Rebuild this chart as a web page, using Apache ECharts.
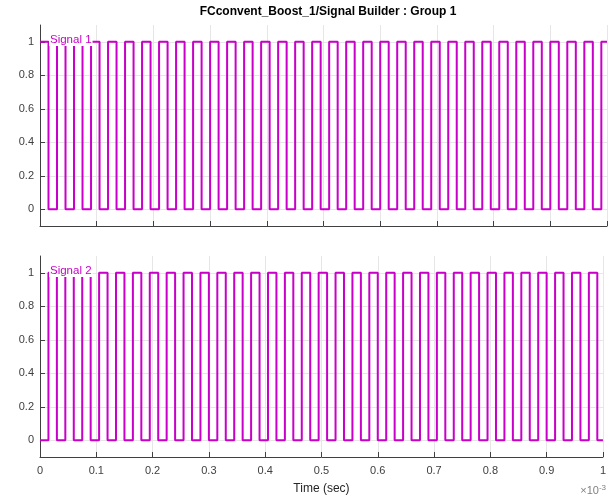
<!DOCTYPE html>
<html>
<head>
<meta charset="utf-8">
<script src="https://cdn.jsdelivr.net/npm/echarts@6/dist/echarts.min.js"></script>
<style>html,body{margin:0;padding:0;background:#fff;}#c{width:609px;height:500px;}</style>
</head>
<body>
<div id="c"></div>
<script>
// Time of each level change, in units of 1e-3 s
const edgeTimes = [0, 0.015, 0.03, 0.045, 0.06, 0.075, 0.09, 0.105, 0.12, 0.135, 0.15, 0.165, 0.18, 0.195, 0.21, 0.225, 0.24, 0.255, 0.27, 0.285, 0.3, 0.315, 0.33, 0.345, 0.36, 0.375, 0.39, 0.405, 0.42, 0.435, 0.45, 0.465, 0.48, 0.495, 0.51, 0.525, 0.54, 0.555, 0.57, 0.585, 0.6, 0.615, 0.63, 0.645, 0.66, 0.675, 0.69, 0.705, 0.72, 0.735, 0.75, 0.765, 0.78, 0.795, 0.81, 0.825, 0.84, 0.855, 0.87, 0.885, 0.9, 0.915, 0.93, 0.945, 0.96, 0.975, 0.99, 1.0];
const signal1 = [1,0,1,0,1,0,1,0,1,0,1,0,1,0,1,0,1,0,1,0,1,0,1,0,1,0,1,0,1,0,1,0,1,0,1,0,1,0,1,0,1,0,1,0,1,0,1,0,1,0,1,0,1,0,1,0,1,0,1,0,1,0,1,0,1,0,1,1];
const signal2 = [0,1,0,1,0,1,0,1,0,1,0,1,0,1,0,1,0,1,0,1,0,1,0,1,0,1,0,1,0,1,0,1,0,1,0,1,0,1,0,1,0,1,0,1,0,1,0,1,0,1,0,1,0,1,0,1,0,1,0,1,0,1,0,1,0,1,0,0];
const yTicks = [0, 0.2, 0.4, 0.6, 0.8, 1];
const signalNames = ['Signal 1', 'Signal 2'];
const titleText = 'FCconvent_Boost_1/Signal Builder : Group 1';
const xName = 'Time (sec)';

const FONT = '"Liberation Sans", Arial, sans-serif';
const AXC = '#404040';
const GRIDC = '#e6e6e6';
const SIGC = '#c800c8';

const chart = echarts.init(document.getElementById('c'), null, {renderer: 'canvas'});

function xAxisCfg(idx, showLabels) {
  return {
    type: 'value', gridIndex: idx, min: 0, max: 1, interval: 0.1,
    axisLine: {show: true, onZero: false, lineStyle: {color: AXC, width: 1}},
    axisTick: {show: true, inside: true, length: 5, lineStyle: {color: AXC}},
    axisLabel: {show: showLabels, color: '#404040', fontFamily: FONT, fontSize: 11, margin: 8,
      formatter: v => String(Math.round(v * 10) / 10)},
    splitLine: {show: true, lineStyle: {color: GRIDC, width: 1}},
    name: showLabels ? xName : '', nameLocation: 'middle', nameGap: 26,
    nameTextStyle: {color: '#262626', fontFamily: FONT, fontSize: 12}
  };
}
function yAxisCfg(idx) {
  return {
    type: 'value', gridIndex: idx, min: -0.1, max: 1.1,
    axisLine: {show: true, lineStyle: {color: AXC, width: 1}},
    axisTick: {show: true, inside: true, length: 5, customValues: yTicks, lineStyle: {color: AXC}},
    axisLabel: {show: true, customValues: yTicks, color: '#404040', fontFamily: FONT, fontSize: 11, margin: 6,
      formatter: v => String(Math.round(v * 10) / 10)},
    splitLine: {show: true, lineStyle: {color: GRIDC, width: 1}}
  };
}
function pairs(levels) { return edgeTimes.map((t, i) => [t, levels[i]]); }

const option = {
  animation: false,
  backgroundColor: '#ffffff',
  title: {text: titleText, left: 323, top: 1, textAlign: 'center',
    textStyle: {fontFamily: FONT, fontSize: 12, fontWeight: 'bold', color: '#000'}},
  grid: [
    {left: 40, right: 2, top: 25, height: 201},
    {left: 40, right: 2, top: 256, height: 201}
  ],
  xAxis: [xAxisCfg(0, false), xAxisCfg(1, true)],
  yAxis: [yAxisCfg(0), yAxisCfg(1)],
  series: [
    {name: signalNames[0], type: 'line', xAxisIndex: 0, yAxisIndex: 0, step: 'end', showSymbol: false,
      lineStyle: {color: SIGC, width: 2}, itemStyle: {color: SIGC}, data: pairs(signal1), z: 3},
    {name: signalNames[1], type: 'line', xAxisIndex: 1, yAxisIndex: 1, step: 'end', showSymbol: false,
      lineStyle: {color: SIGC, width: 2}, itemStyle: {color: SIGC}, data: pairs(signal2), z: 3}
  ],
  graphic: [
    {type: 'text', left: 49, top: 34, z: 10, style: {text: signalNames[0], fill: SIGC, font: '11.5px ' + FONT,
      backgroundColor: '#fff', padding: [0, 1, 0, 1]}},
    {type: 'text', left: 49, top: 265, z: 10, style: {text: signalNames[1], fill: SIGC, font: '11.5px ' + FONT,
      backgroundColor: '#fff', padding: [0, 1, 0, 1]}},
    {type: 'text', right: 3, top: 484, z: 10, style: {
      text: '×10{s|-3}', fill: '#808080', font: '11px ' + FONT,
      rich: {s: {fontSize: 8, fontFamily: FONT, fill: '#808080', color: '#808080', verticalAlign: 'top', padding: [0, 0, 6, 0]}}}}
  ]
};
chart.setOption(option);
</script>
</body>
</html>
